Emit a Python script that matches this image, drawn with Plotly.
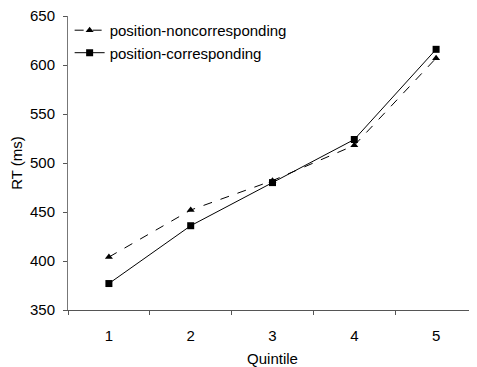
import plotly.graph_objects as go

quintiles = ["1", "2", "3", "4", "5"]
noncorr = [404, 452, 482, 518, 607]
corr = [377, 436, 480, 524, 616]
y_ticks = [350, 400, 450, 500, 550, 600, 650]

fig = go.Figure()
fig.add_trace(go.Scatter(
    x=quintiles, y=noncorr, mode="lines+markers", name="position-noncorresponding",
    line=dict(color="black", width=1, dash="dash"),
    marker=dict(symbol="triangle-up", size=7, color="black")))
fig.add_trace(go.Scatter(
    x=quintiles, y=corr, mode="lines+markers", name="position-corresponding",
    line=dict(color="black", width=1),
    marker=dict(symbol="square", size=7, color="black")))

fig.update_layout(
    width=469, height=359,
    margin=dict(l=60, r=0, t=8, b=57),
    paper_bgcolor="white", plot_bgcolor="white",
    font=dict(family="Liberation Sans, Arial, sans-serif", size=15, color="black"),
    showlegend=True,
    legend=dict(x=0.004, y=1.007, xanchor="left", yanchor="top", bgcolor="rgba(0,0,0,0)",
                font=dict(size=15), tracegroupgap=0, itemwidth=30),
    xaxis=dict(type="category", range=[-0.5, 4.5], tickson="boundaries",
               ticks="outside", ticklen=4, tickcolor="#555", automargin=False,
               showline=True, linecolor="#555", linewidth=1, showgrid=False,
               tickfont=dict(size=15), ticklabelstandoff=12,
               title=dict(text="Quintile", font=dict(size=15), standoff=10)),
    yaxis=dict(range=[350, 650], tickvals=y_ticks, ticks="outside", ticklen=4,
               tickcolor="#555", showline=True, linecolor="#777", linewidth=1,
               showgrid=False, zeroline=False, tickfont=dict(size=15),
               ticklabelstandoff=5, automargin=False, ticklabeloverflow="allow",
               title=dict(text="RT (ms)", font=dict(size=15), standoff=4)),
)
fig.write_html("out.html")
